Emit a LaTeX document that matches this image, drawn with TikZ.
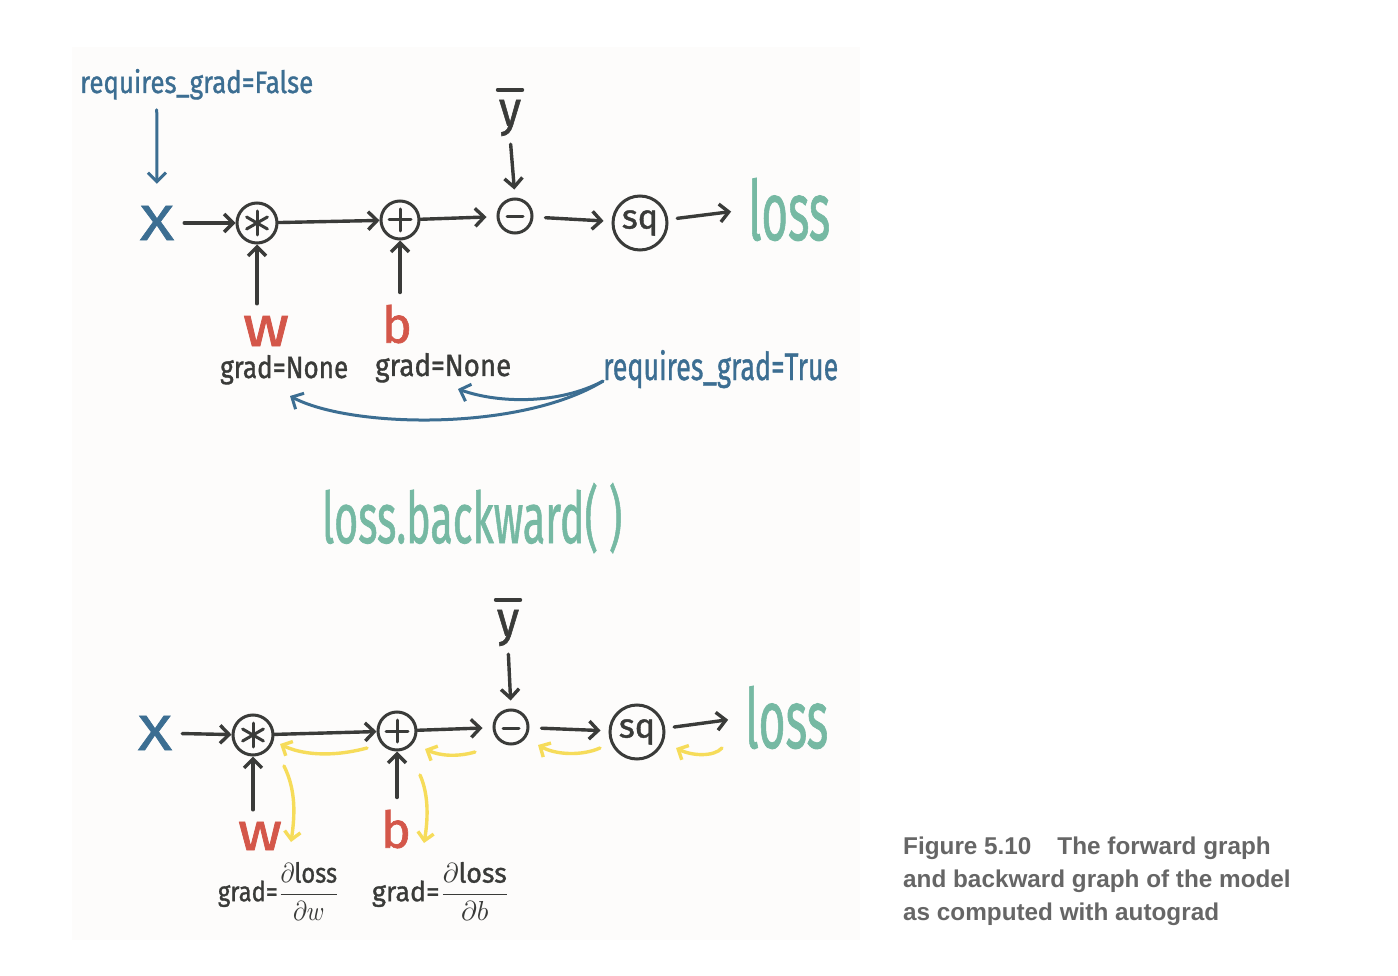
\documentclass[tikz,border=0pt]{standalone}
\usepackage{amsmath}
\usepackage{graphicx}
\usepackage{fontspec}
\usetikzlibrary{arrows.meta}
\newfontfamily\hand{Fira Sans}[FakeBold=1.2]
\newfontfamily\capfont{Liberation Sans}
\definecolor{blueC}{HTML}{3C6E92}
\definecolor{redC}{HTML}{D4574A}
\definecolor{greenC}{HTML}{76B9A3}
\definecolor{darkC}{HTML}{3A3B39}
\definecolor{yellowC}{HTML}{F6DC5A}
\definecolor{capC}{HTML}{666666}
\definecolor{panelC}{HTML}{FDFCFB}
\begin{document}
\begin{tikzpicture}[x=1pt,y=-1pt,
  op/.style={circle,draw=darkC,line width=3pt,text=darkC,inner sep=0pt},
  sym/.style={draw=darkC,line width=3pt,line cap=round},
  conn/.style={draw=darkC,line width=3.4pt,line cap=round,-{Straight Barb[length=9pt,width=18pt]}},
  bconn/.style={draw=blueC,line width=3pt,line cap=round,-{Straight Barb[length=9pt,width=18pt]}},
  yconn/.style={draw=yellowC,line width=3.4pt,line cap=round,-{Straight Barb[length=8pt,width=16pt]}},
  lbl/.style={inner sep=0pt},
]
\useasboundingbox (0,0) rectangle (1398,976);
\fill[panelC] (72,47) rectangle (860,940);

% ---------------- top graph ----------------
\node[lbl,anchor=base west,text=blueC] (reqF) at (80,93) {\resizebox{233pt}{24pt}{\hand requires\_grad=False}};
\node[lbl,text=blueC] (X1) at (157,223) {\resizebox{34pt}{34pt}{\hand X}};
\node[op,minimum size=40pt] (mul1) at (257,223) {};
\node[op,minimum size=38pt] (plus1) at (400,220) {};
\node[op,minimum size=34pt] (minus1) at (515,216) {};
\node[op,minimum size=54pt] (sq1) at (640,223) {\hand\fontsize{34}{34}\selectfont sq};
\node[lbl,anchor=base west,text=greenC] (loss1) at (748,240) {\resizebox{82pt}{62pt}{\hand loss}};
\node[lbl,text=darkC] (ybar1) at (510,118) {\resizebox*{22pt}{36pt}{\hand y}};
\draw[darkC,line width=4pt,line cap=round] ([xshift=-1pt,yshift=10pt]ybar1.north west) -- ([xshift=1pt,yshift=10pt]ybar1.north east);
\node[lbl,text=redC] (w1) at (266,331) {\resizebox{46pt}{30pt}{\hand w}};
\node[lbl,text=redC] (b1) at (397,324) {\resizebox{30pt}{38pt}{\hand b}};
\node[lbl,anchor=base west,text=darkC] (gn1) at (220,378) {\resizebox{128pt}{23pt}{\hand grad=None}};
\node[lbl,anchor=base west,text=darkC] (gn2) at (375,376) {\resizebox{136pt}{23pt}{\hand grad=None}};
\node[lbl,anchor=base west,text=blueC] (reqT) at (603,380) {\resizebox{235pt}{30pt}{\hand requires\_grad=True}};

% operator symbols
\draw[sym] ([shift={(0,-12)}]mul1.center) -- ([shift={(0,12)}]mul1.center);
\draw[sym] ([shift={(-10.4,-6)}]mul1.center) -- ([shift={(10.4,6)}]mul1.center);
\draw[sym] ([shift={(-10.4,6)}]mul1.center) -- ([shift={(10.4,-6)}]mul1.center);
\draw[sym] ([shift={(-11,0)}]plus1.center) -- ([shift={(11,0)}]plus1.center);
\draw[sym] ([shift={(0,-11)}]plus1.center) -- ([shift={(0,11)}]plus1.center);
\draw[sym] ([shift={(-8,1)}]minus1.center) -- ([shift={(8,1)}]minus1.center);

\draw[conn,shorten <=10pt] (X1) -- (mul1);
\draw[conn] (mul1) -- (plus1);
\draw[conn,shorten >=10pt] (plus1) -- (minus1);
\draw[conn,shorten <=12pt,shorten >=8pt] (minus1) -- (sq1);
\draw[conn,shorten <=9pt,shorten >=17pt] (sq1) -- (loss1.west);
\draw[conn,shorten <=8pt,shorten >=8pt] (ybar1.south) -- (minus1.north);
\draw[conn,shorten <=12pt] (w1.north -| mul1.south) -- (mul1.south);
\draw[conn,shorten <=12pt] (b1.north -| plus1.south) -- (plus1.south);
\draw[bconn,shorten <=10pt,shorten >=22pt] ([xshift=-40pt]reqF.south) -- (X1.north);

\coordinate (e1) at (290,396);
\coordinate (e2) at (458,389);
\draw[bconn] ([yshift=-12pt]reqT.west) .. controls (520,432) and (350,428) .. (e1);
\draw[bconn] ([yshift=-12pt]reqT.west) .. controls (560,404) and (500,404) .. (e2);

% ---------------- middle ----------------
\node[lbl,anchor=base west,text=greenC] (bw) at (322,543) {\resizebox{300pt}{60pt}{\hand loss.backward( )}};

% ---------------- bottom graph ----------------
\node[lbl,text=blueC] (X2) at (155,733) {\resizebox{34pt}{34pt}{\hand X}};
\node[op,minimum size=40pt] (mul2) at (253,735) {};
\node[op,minimum size=38pt] (plus2) at (397,731) {};
\node[op,minimum size=34pt] (minus2) at (511,727) {};
\node[op,minimum size=54pt] (sq2) at (637,732) {\hand\fontsize{34}{34}\selectfont sq};
\node[lbl,anchor=base west,text=greenC] (loss2) at (745,748) {\resizebox{83pt}{62pt}{\hand loss}};
\node[lbl,text=darkC] (ybar2) at (508,628) {\resizebox*{22pt}{36pt}{\hand y}};
\draw[darkC,line width=4pt,line cap=round] ([xshift=-1pt,yshift=10pt]ybar2.north west) -- ([xshift=1pt,yshift=10pt]ybar2.north east);
\node[lbl,text=redC] (w2) at (260,836) {\resizebox{44pt}{28pt}{\hand w}};
\node[lbl,text=redC] (b2) at (396,829) {\resizebox{30pt}{38pt}{\hand b}};
\node[lbl,text=darkC] (gd1) at (279,891) {\resizebox*{122pt}{58pt}{\hand grad=$\dfrac{\partial\text{loss}}{\partial w}$}};
\node[lbl,text=darkC] (gd2) at (441,891) {\resizebox*{138pt}{58pt}{\hand grad=$\dfrac{\partial\text{loss}}{\partial b}$}};

\draw[sym] ([shift={(0,-12)}]mul2.center) -- ([shift={(0,12)}]mul2.center);
\draw[sym] ([shift={(-10.4,-6)}]mul2.center) -- ([shift={(10.4,6)}]mul2.center);
\draw[sym] ([shift={(-10.4,6)}]mul2.center) -- ([shift={(10.4,-6)}]mul2.center);
\draw[sym] ([shift={(-11,0)}]plus2.center) -- ([shift={(11,0)}]plus2.center);
\draw[sym] ([shift={(0,-11)}]plus2.center) -- ([shift={(0,11)}]plus2.center);
\draw[sym] ([shift={(-8,1)}]minus2.center) -- ([shift={(8,1)}]minus2.center);

\draw[conn,shorten <=10pt] (X2) -- (mul2);
\draw[conn] (mul2) -- (plus2);
\draw[conn,shorten >=10pt] (plus2) -- (minus2);
\draw[conn,shorten <=12pt,shorten >=8pt] (minus2) -- (sq2);
\draw[conn,shorten <=9pt,shorten >=17pt] (sq2) -- (loss2.west);
\draw[conn,shorten <=8pt,shorten >=8pt] (ybar2.south) -- (minus2.north);
\draw[conn,shorten <=12pt] (w2.north -| mul2.south) -- (mul2.south);
\draw[conn,shorten <=12pt] (b2.north -| plus2.south) -- (plus2.south);

% backward (yellow) arrows
\coordinate (ys1) at (367,748); \coordinate (yt1) at (280,744);
\coordinate (ys2) at (475,752); \coordinate (yt2) at (425,749);
\coordinate (ys3) at (600,748); \coordinate (yt3) at (538,745);
\coordinate (ys4) at (722,748); \coordinate (yt4) at (676,748);
\coordinate (ys5) at (284,766); \coordinate (yt5) at (291,842);
\coordinate (ys6) at (420,775); \coordinate (yt6) at (424,843);
\draw[yconn] (ys1) .. controls (330,758) and (300,754) .. (yt1);
\draw[yconn] (ys2) .. controls (458,757) and (440,756) .. (yt2);
\draw[yconn] (ys3) .. controls (582,756) and (556,755) .. (yt3);
\draw[yconn] (ys4) .. controls (714,757) and (692,756) .. (yt4);
\draw[yconn] (ys5) .. controls (296,790) and (295,815) .. (yt5);
\draw[yconn] (ys6) .. controls (429,795) and (428,820) .. (yt6);

% ---------------- caption ----------------
\node[anchor=base west,inner sep=0pt,text=capC,align=left,font=\capfont\bfseries\fontsize{24.3}{33}\selectfont] (cap) at (903,920)
  {Figure 5.10\hspace{26pt}The forward graph\\and backward graph of the model\\as computed with autograd};
\end{tikzpicture}
\end{document}
